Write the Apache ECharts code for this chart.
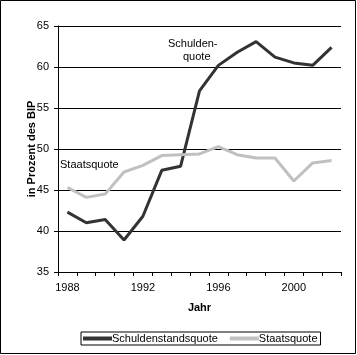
<!DOCTYPE html>
<html>
<head>
<meta charset="utf-8">
<script src="https://cdn.jsdelivr.net/npm/echarts@6/dist/echarts.min.js"></script>
<style>
html,body{margin:0;padding:0;background:#fff;}
#c{width:357px;height:355px;}
</style>
</head>
<body>
<div id="c"></div>
<script>
const years = ['1988','1989','1990','1991','1992','1993','1994','1995','1996','1997','1998','1999','2000','2001','2002'];
const schulden = [42.3, 41.0, 41.4, 38.9, 41.8, 47.4, 47.9, 57.1, 60.2, 61.8, 63.1, 61.2, 60.5, 60.2, 62.4];
const staat = [45.3, 44.1, 44.5, 47.2, 48.0, 49.2, 49.3, 49.4, 50.3, 49.3, 48.9, 48.9, 46.1, 48.3, 48.6];
const yTicks = {min: 35, max: 65, interval: 5};

const font = 'Liberation Sans, Arial, sans-serif';
const chart = echarts.init(document.getElementById('c'));
chart.setOption({
  backgroundColor: '#fff',
  animation: false,
  textStyle: {fontFamily: font},
  grid: {left: 58, right: 16, top: 26, bottom: 83},
  legend: {
    top: 332, left: 81,
    data: ['Schuldenstandsquote', 'Staatsquote'],
    icon: 'rect', itemWidth: 29, itemHeight: 4, itemGap: 12,
    borderColor: '#000', borderWidth: 1, borderRadius: 0,
    padding: [1, 3, 1, 2],
    textStyle: {fontFamily: font, fontSize: 11, color: '#000', padding: [0, 0, 0, -5]}
  },
  xAxis: {
    type: 'category', data: years, boundaryGap: true,
    name: 'Jahr', nameLocation: 'middle', nameGap: 30,
    nameTextStyle: {fontFamily: font, fontSize: 11, fontWeight: 'bold', color: '#000'},
    axisLine: {lineStyle: {color: '#000', width: 1}},
    axisTick: {show: true, interval: 0, length: 4, lineStyle: {color: '#000'}},
    axisLabel: {interval: 3, color: '#000', fontSize: 11, fontFamily: font, margin: 10},
    splitLine: {show: false}
  },
  yAxis: {
    type: 'value', min: yTicks.min, max: yTicks.max, interval: yTicks.interval,
    name: 'in Prozent des BIP', nameLocation: 'middle', nameGap: 21, nameRotate: 90,
    nameMoveOverlap: false,
    nameTextStyle: {fontFamily: font, fontSize: 11, fontWeight: 'bold', color: '#000'},
    axisLine: {show: true, lineStyle: {color: '#000', width: 1}},
    axisTick: {show: true, length: 4, lineStyle: {color: '#000'}},
    axisLabel: {color: '#000', fontSize: 11, fontFamily: font, margin: 9},
    splitLine: {show: true, lineStyle: {color: '#000', width: 1}}
  },
  series: [
    {name: 'Schuldenstandsquote', type: 'line', data: schulden, symbol: 'none',
     lineStyle: {color: '#333333', width: 3}, itemStyle: {color: '#333333'}},
    {name: 'Staatsquote', type: 'line', data: staat, symbol: 'none',
     lineStyle: {color: '#c0c0c0', width: 3}, itemStyle: {color: '#c0c0c0'}}
  ],
  graphic: [
    {type: 'rect', shape: {x: 0.5, y: 0.5, width: 355, height: 353},
     style: {fill: null, stroke: '#000', lineWidth: 1}, silent: true, z: 100},
    {type: 'text', left: 168, top: 38, style: {text: 'Schulden-', font: '11px ' + font, fill: '#000'}},
    {type: 'text', left: 183, top: 51, style: {text: 'quote', font: '11px ' + font, fill: '#000'}},
    {type: 'text', left: 60, top: 159, style: {text: 'Staatsquote', font: '11px ' + font, fill: '#000'}}
  ]
});
</script>
</body>
</html>
